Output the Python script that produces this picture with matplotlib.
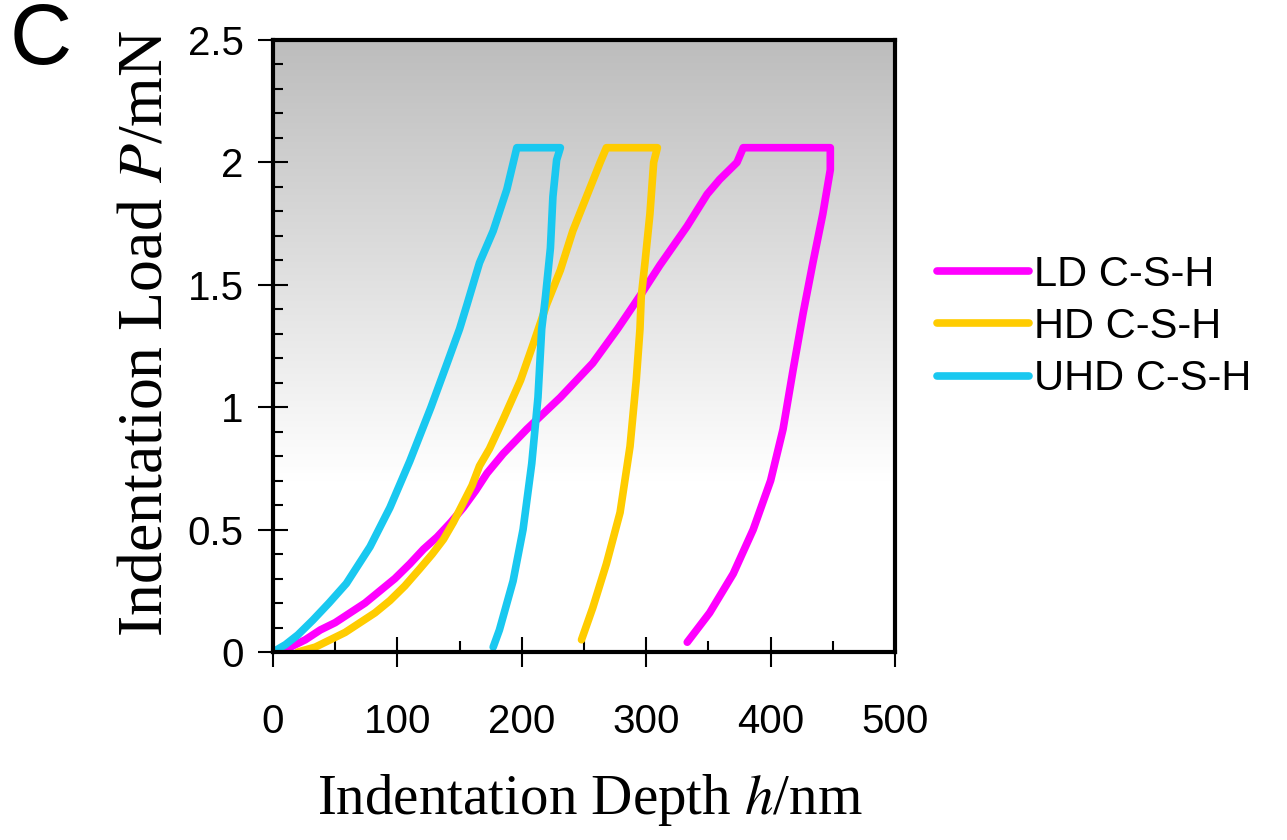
import numpy as np
import matplotlib
matplotlib.use("Agg")
import matplotlib.pyplot as plt
from matplotlib.ticker import MultipleLocator, FixedLocator

plt.rcParams['mathtext.fontset'] = 'stix'

# ---------------- data ----------------
series_names = ["LD C-S-H", "HD C-S-H", "UHD C-S-H"]

# LD C-S-H (magenta)
ld_h = [5, 14, 26, 38, 50, 62, 74, 86, 98, 110, 121, 132, 143, 153, 163, 172, 185,
        204, 231, 257, 277, 297, 311, 333, 349, 359, 373, 378,
        448,
        448, 442, 434, 426, 418, 410, 400, 386, 370, 351, 333]
ld_p = [0.0, 0.02, 0.05, 0.09, 0.12, 0.16, 0.20, 0.25, 0.30, 0.36, 0.42, 0.47, 0.53, 0.59, 0.66, 0.73, 0.81,
        0.91, 1.04, 1.18, 1.32, 1.47, 1.58, 1.74, 1.87, 1.93, 2.00, 2.06,
        2.06,
        1.97, 1.79, 1.59, 1.38, 1.15, 0.91, 0.70, 0.50, 0.32, 0.16, 0.04]

# HD C-S-H (yellow)
hd_h = [20, 34, 46, 58, 70, 82, 94, 106, 118, 128, 137, 145, 153, 160, 166, 174, 185,
        199, 210, 220, 231, 241, 252, 263, 268,
        309,
        306, 303, 299, 296, 295, 292, 287, 279, 268, 257, 248]
hd_p = [0.0, 0.02, 0.05, 0.08, 0.12, 0.16, 0.21, 0.27, 0.34, 0.40, 0.46, 0.53, 0.61, 0.68, 0.76, 0.83, 0.95,
        1.11, 1.27, 1.42, 1.56, 1.72, 1.86, 2.00, 2.06,
        2.06,
        2.00, 1.79, 1.59, 1.45, 1.32, 1.11, 0.84, 0.57, 0.36, 0.18, 0.05]

# UHD C-S-H (cyan)
uhd_h = [0, 10, 20, 32, 45, 59, 78, 94, 110, 127, 140, 150, 156, 166, 177, 188, 196,
         231,
         228, 225, 223, 219, 216, 213, 208, 201, 193, 182, 177]
uhd_p = [0.0, 0.03, 0.07, 0.13, 0.20, 0.28, 0.43, 0.59, 0.78, 1.00, 1.18, 1.32, 1.42, 1.59, 1.72, 1.89, 2.06,
         2.06,
         2.01, 1.86, 1.65, 1.45, 1.32, 1.04, 0.77, 0.50, 0.29, 0.09, 0.02]

x_ticks = [0, 100, 200, 300, 400, 500]
x_tick_labels = ["0", "100", "200", "300", "400", "500"]
y_ticks = [0, 0.5, 1, 1.5, 2, 2.5]
y_tick_labels = ["0", "0.5", "1", "1.5", "2", "2.5"]

colors = ["#ff00ff", "#ffcc00", "#19c8f0"]

# ---------------- figure ----------------
W, H = 1287, 840
fig = plt.figure(figsize=(W / 100, H / 100), dpi=100)
ax = fig.add_axes([273 / W, 1 - 652 / H, (895 - 273) / W, (652 - 40) / H])

# background gradient
t = np.linspace(1, 0, 256)[:, None]
g = 1 - 0.26 * np.clip((t - 0.28) / 0.72, 0, 1)
ax.imshow(np.dstack([g, g, g]), extent=[0, 500, 0, 2.5], aspect='auto', zorder=0,
          interpolation='bilinear')

lw = 5.5
lines = []
for h, p, c, n in zip([ld_h, hd_h, uhd_h], [ld_p, hd_p, uhd_p], colors, series_names):
    ln, = ax.plot(h, p, color=c, lw=lw, solid_joinstyle='round', solid_capstyle='round',
                  label=n, zorder=2)
    lines.append(ln)

ax.set_xlim(0, 500)
ax.set_ylim(0, 2.5)

for side in ['top', 'right', 'left', 'bottom']:
    ax.spines[side].set_linewidth(3)
    ax.spines[side].set_color('black')
    ax.spines[side].set_zorder(5)

ax.xaxis.set_major_locator(FixedLocator(x_ticks))
ax.yaxis.set_major_locator(FixedLocator(y_ticks))
ax.xaxis.set_minor_locator(MultipleLocator(50))
ax.yaxis.set_minor_locator(MultipleLocator(0.1))
ax.set_xticklabels(x_tick_labels)
ax.set_yticklabels(y_tick_labels)

ax.tick_params(axis='x', which='major', direction='inout', length=22, width=1.5,
               pad=26, labelsize=29)
ax.tick_params(axis='x', which='minor', direction='in', length=8, width=1.5)
ax.tick_params(axis='y', which='major', direction='inout', length=22, width=1.5,
               pad=10, labelsize=29)
ax.tick_params(axis='y', which='minor', direction='in', length=7, width=1.5)
for lab in ax.get_xticklabels() + ax.get_yticklabels():
    lab.set_family('Liberation Sans')

fig.text(590 / W, 1 - 800 / H, 'Indentation Depth $h$/nm', ha='center', va='center',
         fontsize=41, family='Liberation Serif')
fig.text(147 / W, 1 - 333 / H, 'Indentation Load $P$/mN', ha='center', va='center',
         fontsize=46, family='Liberation Serif', rotation=90)
fig.text(10 / W, 1 - 2 / H, 'C', ha='left', va='top', fontsize=62, family='Liberation Sans')

leg = ax.legend(handles=lines, loc='center left', bbox_to_anchor=(937 / W, 1 - 327 / H),
                bbox_transform=fig.transFigure, frameon=False, fontsize=30,
                handlelength=2.2, handletextpad=0.12, labelspacing=0.3,
                borderpad=0, borderaxespad=0)
for txt in leg.get_texts():
    txt.set_family('Liberation Sans')
for lh in leg.get_lines():
    lh.set_linewidth(5.5)

fig.savefig('out.png', dpi=100)
